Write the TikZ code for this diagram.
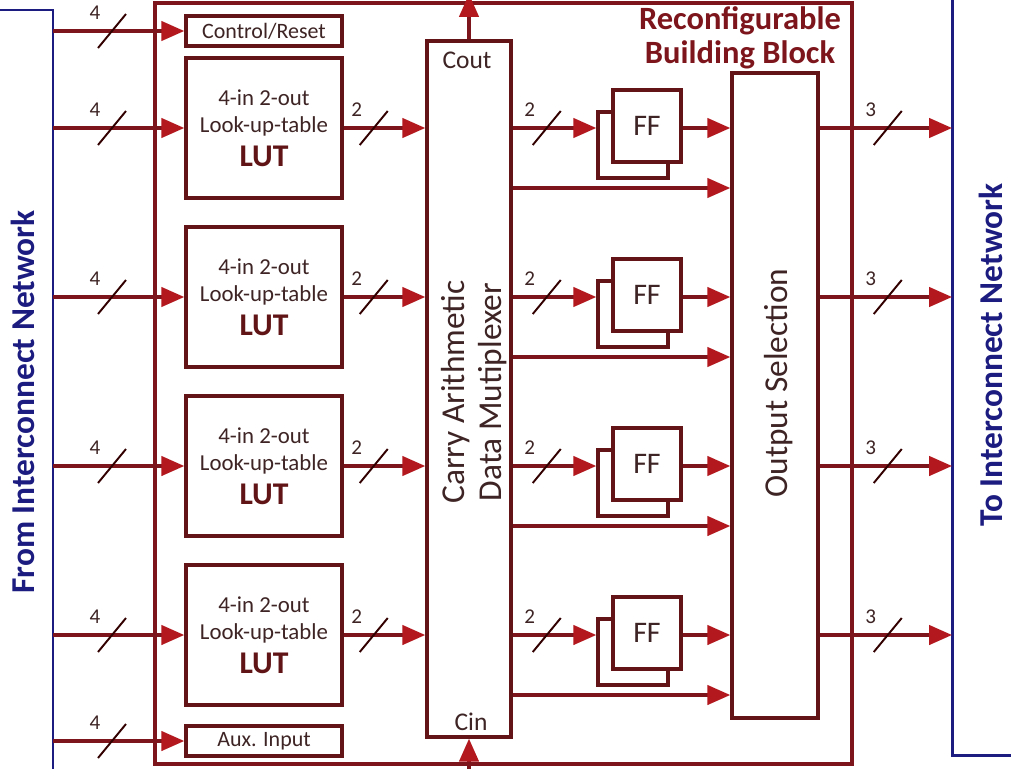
\documentclass[tikz,border=0pt]{standalone}
\usepackage{fontspec}
\setmainfont{Carlito}
\usepackage{tikz}
\usetikzlibrary{positioning, calc, arrows.meta}
\definecolor{boxred}{RGB}{98,20,22}
\definecolor{linered}{RGB}{125,22,28}
\definecolor{tipred}{RGB}{178,24,30}
\definecolor{netblue}{RGB}{28,28,128}
\definecolor{darktext}{RGB}{62,36,36}
\definecolor{luttext}{RGB}{96,20,22}
\tikzset{
  blockbox/.style={draw=boxred, line width=2pt, fill=white, inner sep=0pt, text=darktext},
  lutbox/.style={blockbox, minimum width=3.12cm, minimum height=2.8cm, align=center,
    font=\fontsize{13}{15.5}\selectfont},
  thinbox/.style={blockbox, minimum width=3.12cm, minimum height=0.6cm,
    font=\fontsize{12.5}{14}\selectfont},
  ffbox/.style={blockbox, minimum width=1.36cm, minimum height=1.44cm,
    font=\fontsize{17}{19}\selectfont},
  ffback/.style={blockbox, minimum width=1.4cm, minimum height=1.32cm}
}
\tikzset{
  sig/.style={draw=linered, line width=1.8pt, -{Triangle[length=13pt,width=11pt,color=tipred]}},
  netline/.style={draw=netblue, line width=1.7pt},
  slashmark/.style={draw=black!80!red, line width=1.1pt},
  buslabel/.style={font=\fontsize{12}{14}\selectfont, text=darktext, inner sep=0pt},
  bigtext/.style={font=\fontsize{19}{21.5}\selectfont, text=darktext, rotate=90, align=center},
  nettext/.style={font=\fontsize{19}{22}\selectfont\bfseries, text=netblue, rotate=90},
  carrytext/.style={font=\fontsize{14.5}{16}\selectfont, text=darktext, inner sep=1pt}
}
\newcommand{\lutfont}{\fontsize{18}{20}\selectfont\bfseries\color{luttext}}
% slash with bus width: point on the line, x offset, width, name
\newcommand{\busmark}[4]{%
  \draw[slashmark] ($(#1)+(#2-14,17)$) -- ($(#1)+(#2+14,-17)$);
  \node[buslabel] (#4) at ($(#1)+(#2-17,-18)$) {#3};
}

\begin{document}
\begin{tikzpicture}[x=0.02cm, y=-0.02cm]
  \useasboundingbox (0,0) rectangle (1011,768);

  % interconnect rails
  \coordinate (fnet) at (53,10);
  \coordinate (tnet) at (952,755);
  \draw[netline] (0,10) -- (fnet) -- (53,790);
  \draw[netline] (952,-20) -- (tnet) -- (1030,755);
  \node[nettext] (fromlbl) at (23,402) {From Interconnect Network};
  \node[nettext] (tolbl) at (991,355) {To Interconnect Network};

  % building block frame
  \node[draw=linered, line width=2pt, minimum width=13.94cm, minimum height=15.22cm,
    inner sep=0pt] (rbb) at (503.5,383.5) {};
  \node[font=\fontsize{18.5}{19.5}\selectfont\bfseries, text=linered, align=center]
    (rbbname) at (740,38) {Reconfigurable\\Building Block};

  \node[blockbox, minimum width=1.68cm, minimum height=13.92cm] (mux) at (469,389) {};
  \node[bigtext] (muxlbl) at (474,392) {Carry Arithmetic\\Data Mutiplexer};
  \node[carrytext] (cout) at (467,60) {Cout};
  \node[carrytext] (cin) at (471,722) {Cin};
  \coordinate (coutend) at (469,-6);
  \coordinate (cinstart) at (469,800);
  \draw[sig] (mux.north) -- (coutend);
  \draw[sig] (cinstart) -- (mux.south);

  \node[blockbox, minimum width=1.72cm, minimum height=12.9cm] (os) at (775,395.5) {};
  \node[bigtext] (oslbl) at (779,383) {Output Selection};

  \node[thinbox] (ctrl) at (264,31) {Control/Reset};
  \node[thinbox] (aux) at (264,741) {Aux. Input};
  \draw[sig] (fnet |- ctrl.west) -- (ctrl.west);
  \busmark{fnet |- ctrl.west}{59}{4}{inctrl}
  \draw[sig] (fnet |- aux.west) -- (aux.west);
  \busmark{fnet |- aux.west}{59}{4}{inaux}

  \foreach \i/\y in {1/128, 2/297, 3/466, 4/635} {
    \node[lutbox] (lut\i) at (264,\y) {4-in 2-out\\Look-up-table\\[4pt]{\lutfont LUT}};
    \node[ffback] (ffb\i) at (633,\y+17) {};
    \node[ffbox] (ff\i) at (647,\y-2) {FF};
    \draw[sig] (fnet |- lut\i.west) -- (lut\i.west);
    \busmark{fnet |- lut\i.west}{59}{4}{in\i}
    \draw[sig] (lut\i.east) -- (mux.west |- lut\i.east);
    \busmark{lut\i.east}{30}{2}{lo\i}
    \draw[sig] (mux.east |- lut\i.east) -- (ffb\i.west |- lut\i.east);
    \busmark{mux.east |- lut\i.east}{34}{2}{fi\i}
    \draw[sig] (ff\i.east |- lut\i.east) -- (os.west |- lut\i.east);
    % bypass round the flip-flops
    \draw[sig] ($(mux.east |- lut\i.east)+(0,60)$) -- ($(os.west |- lut\i.east)+(0,60)$);
    \draw[sig] (os.east |- lut\i.east) -- (tnet |- lut\i.east);
    \busmark{os.east |- lut\i.east}{68}{3}{out\i}
  }
\end{tikzpicture}
\end{document}
